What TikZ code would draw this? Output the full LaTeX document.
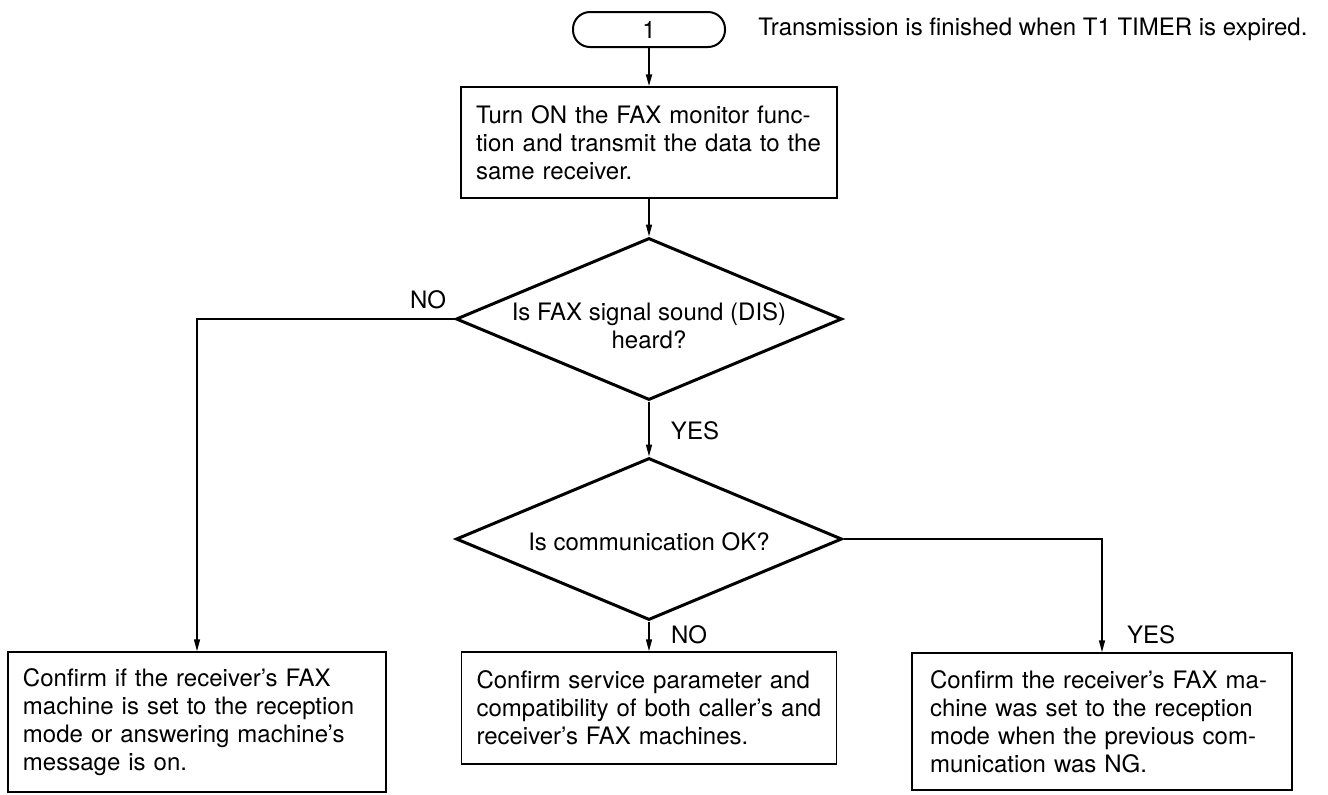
\documentclass[tikz,border=0pt]{standalone}
\usepackage{fontspec}
\setmainfont{TeX Gyre Heros}
\usetikzlibrary{arrows.meta,shapes.geometric}
\begin{document}
\begin{tikzpicture}[x=0.5pt,y=-0.5pt,
  every node/.style={font=\fontsize{12}{14}\selectfont},
  box/.style={draw,line width=0.75pt,rectangle,align=left,inner xsep=7.5pt,inner ysep=0pt},
  dia/.style={draw,diamond,line width=1.5pt,inner sep=0pt,minimum width=193pt,minimum height=81pt},
  term/.style={draw,line width=1pt,rounded corners=8.5pt,minimum width=76pt,minimum height=17.5pt,inner sep=0pt},
  arr/.style={line width=0.75pt,-{Triangle[length=6pt,width=3pt]}},
  lbl/.style={inner sep=0pt}]
\useasboundingbox (0,0) rectangle (1328,794);
\node[term] (t1) at (649,29.5) {1};
\node[lbl,anchor=west] (note) at (758,29.5) {Transmission is finished when T1 TIMER is expired.};
\node[box,text width=173pt,minimum height=55.5pt] (b1) at (649,142.5) {Turn ON the FAX monitor func-\\tion and transmit the data to the\\same receiver.};
\node[dia] (d1) at (649,319) {};
\node[lbl,align=center] (d1t) at (649,326) {Is FAX signal sound (DIS)\\heard?};
\node[dia] (d2) at (649,539) {};
\node[lbl] (d2t) at (649,542) {Is communication OK?};
\node[box,text width=174pt,minimum height=70pt] (bL) at (197,722) {Confirm if the receiver's FAX\\machine is set to the reception\\mode or answering machine's\\message is on.};
\node[box,text width=172.5pt,minimum height=56pt] (bM) at (649,708) {Confirm service parameter and\\compatibility of both caller's and\\receiver's FAX machines.};
\node[box,inner xsep=9pt,text width=172pt,minimum height=68.5pt] (bR) at (1102,721.5) {Confirm the receiver's FAX ma-\\chine was set to the reception\\mode when the previous com-\\munication was NG.};
\draw[arr,line width=1pt] (t1) -- (b1);
\draw[arr] (b1) -- (d1);
\draw[arr] (d1.west) -| (bL.north);
\draw[arr] (d1) -- (d2);
\draw[arr] (d2) -- (bM);
\draw[arr] (d2.east) -| (bR.north);
\node[lbl] (no1) at (428,300) {NO};
\node[lbl] (yes1) at (695,431) {YES};
\node[lbl] (no2) at (689,635) {NO};
\node[lbl] (yes2) at (1151,635) {YES};
\end{tikzpicture}
\end{document}
